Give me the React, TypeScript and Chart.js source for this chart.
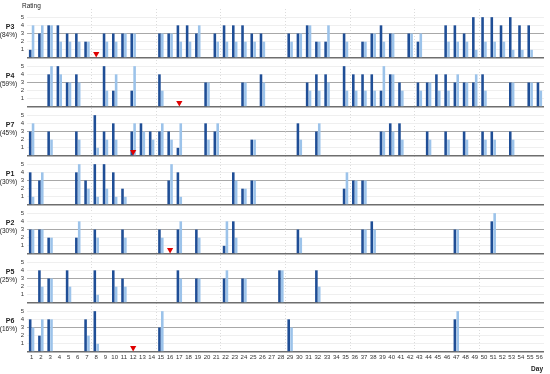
import { useEffect, useRef } from 'react';
import { Chart, registerables } from 'chart.js';
Chart.register(...registerables);

const DAYS = ['1','2','3','4','5','6','7','8','9','10','11','12','13','14','15','16','17','18','19','20','21','22','23','24','25','26','27','28','29','30','31','32','33','34','35','36','37','38','39','40','41','42','43','44','45','46','47','48','49','50','51','52','53','54','55','56'];

const PANELS = ['P3', 'P4', 'P7', 'P1', 'P2', 'P5', 'P6'];
const PERCENTS = ['(84%)', '(59%)', '(45%)', '(30%)', '(30%)', '(25%)', '(16%)'];

// [day, dark rating, light rating]
const P3_BARS = [[1,1,4],[2,3,4],[3,4,4],[4,4,2],[5,3,2],[6,3,2],[7,2,2],[9,3,2],[10,3,2],[11,3,3],[12,3,3],[15,3,3],[16,3,3],[17,4,2],[18,4,2],[19,3,4],[21,3,2],[22,4,2],[23,4,2],[24,4,2],[25,3,2],[26,3,2],[29,3,2],[30,3,3],[31,4,4],[32,2,2],[33,2,4],[35,3,2],[37,2,2],[38,3,3],[39,4,2],[40,3,3],[42,3,3],[43,2,3],[46,4,2],[47,4,2],[48,3,2],[49,5,1],[50,5,2],[51,5,2],[52,4,2],[53,5,1],[54,4,1],[55,4,1]];
const P4_BARS = [[3,4,5],[4,5,4],[5,3,3],[6,4,3],[9,5,2],[10,2,4],[12,2,5],[15,4,2],[20,3,3],[24,3,3],[26,4,3],[31,3,2],[32,4,2],[33,4,3],[35,5,2],[36,4,2],[37,4,2],[38,4,2],[39,2,5],[40,4,4],[41,3,2],[43,3,2],[44,3,3],[45,4,2],[46,4,2],[47,3,4],[48,3,3],[49,3,4],[50,4,2],[53,3,3],[55,3,3],[56,3,2]];
const P7_BARS = [[1,3,4],[3,3,2],[6,3,2],[8,5,1],[9,3,2],[10,4,2],[12,3,4],[13,4,3],[14,3,2],[15,3,4],[16,3,2],[17,1,4],[20,4,2],[21,3,4],[25,2,2],[30,4,2],[32,3,4],[39,3,3],[40,4,3],[41,4,2],[44,3,2],[46,3,2],[48,3,2],[50,3,2],[51,3,2],[53,3,2]];
const P1_BARS = [[1,4,1],[2,3,4],[6,4,5],[7,3,2],[8,5,1],[9,5,2],[10,4,1],[11,2,1],[16,3,5],[17,4,1],[23,4,3],[24,2,2],[25,3,3],[35,2,4],[36,3,3],[37,3,3]];
const P2_BARS = [[1,3,3],[2,3,3],[3,2,2],[6,2,4],[8,3,2],[11,3,2],[15,3,2],[17,3,4],[19,3,2],[22,1,4],[23,4,2],[30,3,2],[37,3,3],[38,4,3],[47,3,3],[51,4,5]];
const P5_BARS = [[2,4,2],[3,3,3],[5,4,2],[8,4,1],[10,4,2],[11,3,2],[17,4,3],[19,3,3],[22,3,4],[24,3,3],[28,4,4],[32,4,2]];
const P6_BARS = [[1,4,3],[2,2,4],[3,4,4],[7,4,2],[8,5,1],[15,3,5],[29,4,3],[47,4,5]];

const PANEL_BARS = [P3_BARS, P4_BARS, P7_BARS, P1_BARS, P2_BARS, P5_BARS, P6_BARS];
// day of the red marker per panel (null = none)
const MARKER_DAYS = [8, 17, 12, null, 16, null, 12];
const MARKER_LEVEL = 0.5;

const DARK = '#1f4e96';
const LIGHT = '#9cc3ea';
const FONT = '"Liberation Sans", Arial, sans-serif';

function series(bars: number[][], idx: number) {
  const arr: (number | null)[] = DAYS.map(() => null);
  bars.forEach((b) => { arr[b[0] - 1] = b[idx]; });
  return arr;
}

const labelPlugin = {
  id: 'panelLabels',
  afterDraw(chart: any) {
    const ctx = chart.ctx;
    ctx.save();
    ctx.fillStyle = '#222';
    ctx.textBaseline = 'middle';
    PANELS.forEach((p, i) => {
      const s = chart.scales['y' + p];
      ctx.textAlign = 'center';
      ctx.font = 'bold 7px ' + FONT;
      ctx.fillText(p, 10, s.getPixelForValue(3.75));
      ctx.font = '6.5px ' + FONT;
      ctx.fillText(PERCENTS[i], 8.5, s.getPixelForValue(2.75));
    });
    ctx.textAlign = 'left';
    ctx.font = '6.5px ' + FONT;
    ctx.fillText('Rating', 22, 6);
    ctx.textAlign = 'right';
    ctx.font = 'bold 6.5px ' + FONT;
    ctx.fillText('Day', 543, 369);
    ctx.restore();
  },
};

export default function App() {
  const ref = useRef<HTMLCanvasElement>(null);
  useEffect(() => {
    document.body.style.margin = '0';
    const datasets: any[] = [];
    PANELS.forEach((p, i) => {
      const md = MARKER_DAYS[i];
      if (md !== null) {
        datasets.push({
          type: 'line',
          label: p + ' marker',
          data: DAYS.map((d) => (Number(d) === md ? MARKER_LEVEL : null)),
          yAxisID: 'y' + p,
          showLine: false,
          pointStyle: 'triangle',
          rotation: 180,
          pointRadius: 3.6,
          pointBackgroundColor: '#e00000',
          pointBorderColor: '#e00000',
          pointBorderWidth: 0,
          order: -1,
        });
      }
      datasets.push({
        type: 'bar',
        label: p + ' dark',
        data: series(PANEL_BARS[i], 1),
        yAxisID: 'y' + p,
        stack: 'dark',
        backgroundColor: DARK,
        categoryPercentage: 0.62,
        barPercentage: 0.9,
      });
      datasets.push({
        type: 'bar',
        label: p + ' light',
        data: series(PANEL_BARS[i], 2),
        yAxisID: 'y' + p,
        stack: 'light',
        backgroundColor: LIGHT,
        categoryPercentage: 0.62,
        barPercentage: 0.9,
      });
    });

    const scales: any = {
      x: {
        type: 'category',
        labels: DAYS,
        offset: true,
        grid: {
          offset: true,
          drawTicks: false,
          color: (c: any) => (c.index > 0 && c.index % 7 === 0 ? '#dcdcdc' : 'transparent'),
          lineWidth: 1,
        },
        border: { display: false, dash: [1, 2] },
        ticks: {
          autoSkip: false,
          maxRotation: 0,
          padding: 2,
          color: '#333',
          font: { size: 6, family: FONT },
        },
        afterFit: (s: any) => { s.height = 22; },
      },
    };
    for (let i = PANELS.length - 1; i >= 0; i--) {
      scales['y' + PANELS[i]] = {
        type: 'linear',
        position: 'left',
        stack: 'panels',
        stackWeight: 1,
        stacked: false,
        min: 0,
        max: 6,
        ticks: {
          stepSize: 1,
          autoSkip: false,
          padding: 3,
          color: '#333',
          font: { size: 6, family: FONT },
          callback: (v: any) => (v >= 1 && v <= 5 ? String(v) : ''),
        },
        grid: {
          drawTicks: false,
          color: (c: any) => {
            const v = c.tick ? c.tick.value : -1;
            if (v === 0) return '#6e6e6e';
            if (v === 3) return '#a8a8a8';
            if (v === 6) return 'transparent';
            return '#efefef';
          },
          lineWidth: (c: any) => (c.tick && c.tick.value === 0 ? 1.6 : 1),
        },
        border: { display: false },
        afterFit: (s: any) => { s.width = 27; },
      };
    }

    const chart = new Chart(ref.current as HTMLCanvasElement, {
      data: { labels: DAYS, datasets },
      options: {
        responsive: false,
        animation: false,
        layout: { padding: { top: 9, right: 6, bottom: 0, left: 0 } },
        plugins: { legend: { display: false }, tooltip: { enabled: false } },
        scales,
      },
      plugins: [labelPlugin],
    } as any);
    return () => chart.destroy();
  }, []);
  return (
    <div style={{ width: 550, height: 374, background: '#fff' }}>
      <canvas ref={ref} width={550} height={374} style={{ display: 'block' }} />
    </div>
  );
}
